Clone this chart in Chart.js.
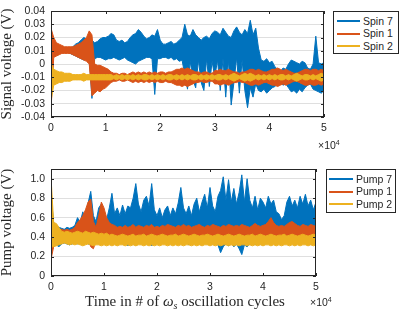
<!DOCTYPE html>
<html lang="en">
<head>
  <meta charset="UTF-8">
  <title>Spin and pump voltages</title>
  <script src="https://cdn.jsdelivr.net/npm/chart.js"></script>
  <style>
    body {
      margin: 0;
      width: 399px;
      height: 312px;
      background: #fff;
      position: relative;
      overflow: hidden;
      font-family: "Liberation Sans", Arial, sans-serif;
      color: #262626;
    }
    .panel { position: absolute; left: 0; }
    .legend {
      position: absolute;
      background: #fff;
      border: 1px solid #262626;
      box-sizing: border-box;
      font-size: 10.5px;
    }
    .legend .row {
      position: absolute;
      height: 13px;
      line-height: 13px;
      white-space: nowrap;
    }
    .legend .swatch {
      position: absolute;
      top: 5.5px;
      height: 2px;
    }
    .legend .txt { position: absolute; }
    .exp {
      position: absolute;
      font-size: 10.5px;
      line-height: 12px;
    }
    .exp sup { font-size: 7px; vertical-align: 4px; }
    .xtitle {
      position: absolute;
      left: 51px;
      width: 268px;
      top: 292px;
      text-align: center;
      font-family: "Liberation Serif", "Times New Roman", serif;
      font-size: 15px;
      line-height: 18px;
    }
    .xtitle sub { font-size: 10px; vertical-align: -3px; }
  </style>
</head>
<body>
  <div class="panel" style="top:0"><canvas id="spinChart" width="399" height="150"></canvas></div>
  <div class="panel" style="top:150px"><canvas id="pumpChart" width="399" height="162"></canvas></div>

  <div class="legend" id="spinLegend" style="left:333px; top:11px; width:66px; height:43px;"></div>
  <div class="legend" id="pumpLegend" style="left:326px; top:169px; width:70px; height:44px;"></div>

  <div class="exp" style="left:318px; top:137px;">×10<sup>4</sup></div>
  <div class="exp" style="left:310px; top:294px;">×10<sup>4</sup></div>
  <div class="xtitle">Time in # of <i>ω<sub>s</sub></i> oscillation cycles</div>

<script>
// sample positions (oscillation cycles)
const cycles = [0, 500, 1000, 1500, 2000, 2500, 3000, 3500, 4000, 4500,
  5000, 5500, 6000, 6500, 7000, 7500, 8000, 8500, 9000, 9500,
  10000, 10500, 11000, 11500, 12000, 12500, 13000, 13500, 14000, 14500,
  15000, 15500, 16000, 16500, 17000, 17500, 18000, 18500, 19000, 19500,
  20000, 20500, 21000, 21500, 22000, 22500, 23000, 23500, 24000, 24500,
  25000, 25500, 26000, 26500, 27000, 27500, 28000, 28500, 29000, 29500,
  30000, 30500, 31000, 31500, 32000, 32500, 33000, 33500, 34000, 34500,
  35000, 35500, 36000, 36500, 37000, 37500, 38000, 38500, 39000, 39500,
  40000, 40500, 41000, 41500, 42000, 42500, 43000, 43500, 44000, 44500,
  45000, 45500, 46000, 46500, 47000, 47500, 48000, 48500, 49000, 49500, 50000];

// signal voltage (V): upper / lower excursion in each sample window
const spin7Hi = [0.011, 0.011, 0.011, 0.011, 0.011, 0.011, 0.011, 0.012, 0.013,
  0.015, 0.016, 0.018, 0.020, 0.019, 0.017, 0.018,
  0.016, 0.017, 0.019, 0.020, 0.020, 0.021, 0.023, 0.022,
  0.018, 0.017, 0.018, 0.016, 0.017, 0.020, 0.022, 0.023,
  0.026, 0.024, 0.021, 0.019, 0.020, 0.022, 0.021, 0.026,
  0.018, 0.015, 0.015, 0.016, 0.017, 0.015, 0.016, 0.018,
  0.020, 0.030, 0.022, 0.021, 0.026, 0.022, 0.020, 0.018,
  0.020, 0.021, 0.019, 0.023, 0.025, 0.024, 0.022, 0.027,
  0.024, 0.021, 0.020, 0.025, 0.028, 0.024, 0.022, 0.026,
  0.023, 0.033, 0.022, 0.027, 0.012,
  0.003, 0.002, 0.004, 0.001, 0.002, -0.002, -0.004, -0.006, -0.003,
  -0.004, 0.000, 0.003, 0.002, 0.001, 0.000, 0.002, 0.001,
  -0.003, -0.004, 0.000, 0.021, 0.001, 0.000, 0.001];
const spin7Lo = [0.009, 0.009, 0.009, 0.009, 0.009, 0.009, 0.009, 0.008, 0.007,
  0.006, 0.005, 0.004, 0.003, 0.004, 0.005, -0.026,
  0.004, 0.005, 0.005, 0.004, 0.003, 0.004, 0.004, 0.005,
  0.004, 0.003, 0.004, 0.005, 0.003, 0.002, 0.001, 0.000,
  0.002, 0.003, 0.004, 0.005, 0.005, 0.004, -0.023, 0.004,
  0.004, 0.005, 0.005, 0.004, 0.005, 0.003, 0.004, 0.002,
  0.003, -0.008, -0.019, 0.002, -0.012, -0.018, 0.003, -0.014,
  -0.020, 0.004, -0.017, 0.002, -0.010, 0.003, -0.020, 0.004,
  -0.025, 0.003, -0.031, -0.014, 0.005, -0.022, 0.003, -0.020,
  -0.033, -0.018, -0.025, -0.015, -0.020,
  -0.021, -0.019, -0.022, -0.020, -0.018, -0.017, -0.015, -0.014, -0.016,
  -0.015, -0.018, -0.021, -0.020, -0.022, -0.019, -0.021, -0.018,
  -0.016, -0.015, -0.019, -0.020, -0.021, -0.022, -0.020];
const spin1Hi = [0.027, 0.020, 0.016, 0.015, 0.014, 0.013, 0.013, 0.013, 0.013,
  0.014, 0.015, 0.016, 0.018, 0.020, 0.025, 0.022,
  0.000, -0.001, -0.001, -0.002, -0.003, -0.004, -0.006, -0.007,
  -0.007, -0.008, -0.007, -0.007, -0.008, -0.007, -0.006, -0.007,
  -0.006, -0.007, -0.006, -0.007, -0.006, -0.007, -0.006, -0.007,
  -0.006, -0.006, -0.007, -0.006, -0.006, -0.005, -0.004, -0.004,
  -0.003, -0.004, -0.003, -0.004, -0.005, -0.006, -0.006, -0.007,
  -0.006, -0.006, -0.007, -0.007, -0.005, -0.005, -0.004, -0.005,
  -0.005, -0.004, -0.005, -0.006, -0.006, -0.007, -0.006, -0.006,
  -0.005, -0.004, -0.004, -0.005, -0.004, -0.005, -0.006, -0.006,
  -0.005, -0.004, -0.004, -0.003, -0.004, -0.005, -0.004, -0.005,
  -0.006, -0.007, -0.007, -0.006, -0.005, -0.004, -0.004, -0.005,
  -0.004, -0.004, -0.005, -0.004, -0.005];
const spin1Lo = [-0.035, 0.005, 0.006, 0.007, 0.008, 0.008, 0.008, 0.008, 0.007,
  0.006, 0.005, 0.004, 0.003, 0.002, 0.000, -0.024,
  -0.022, -0.020, -0.021, -0.019, -0.018, -0.016, -0.014, -0.013,
  -0.013, -0.012, -0.013, -0.013, -0.012, -0.013, -0.014, -0.013,
  -0.014, -0.013, -0.014, -0.013, -0.014, -0.013, -0.014, -0.013,
  -0.014, -0.014, -0.013, -0.014, -0.014, -0.015, -0.016, -0.016,
  -0.017, -0.016, -0.017, -0.016, -0.015, -0.014, -0.014, -0.013,
  -0.014, -0.014, -0.013, -0.013, -0.015, -0.015, -0.016, -0.015,
  -0.015, -0.016, -0.015, -0.014, -0.014, -0.013, -0.014, -0.014,
  -0.015, -0.016, -0.016, -0.015, -0.016, -0.015, -0.014, -0.014,
  -0.015, -0.016, -0.016, -0.017, -0.016, -0.015, -0.016, -0.015,
  -0.014, -0.013, -0.013, -0.014, -0.015, -0.016, -0.016, -0.015,
  -0.016, -0.016, -0.015, -0.016, -0.015];
const spin2Hi = [0.001, -0.004, -0.005, -0.006, -0.006, -0.007, -0.007, -0.007, -0.008,
  -0.008, -0.008, -0.008, -0.007, -0.008, -0.008, -0.008,
  -0.008, -0.008, -0.008, -0.008, -0.008, -0.008, -0.008, -0.009,
  -0.008, -0.009, -0.008, -0.009, -0.008, -0.009, -0.008, -0.009,
  -0.008, -0.009, -0.008, -0.008, -0.009, -0.008, -0.009, -0.008,
  -0.009, -0.008, -0.009, -0.008, -0.008, -0.009, -0.008, -0.009,
  -0.008, -0.009, -0.008, -0.009, -0.008, -0.008, -0.009, -0.008,
  -0.009, -0.008, -0.009, -0.008, -0.009, -0.008, -0.008, -0.009,
  -0.008, -0.009, -0.008, -0.007, -0.008, -0.009, -0.008, -0.007,
  -0.008, -0.007, -0.008, -0.009, -0.008, -0.009, -0.008, -0.009,
  -0.008, -0.009, -0.008, -0.009, -0.008, -0.008, -0.009, -0.008,
  -0.009, -0.008, -0.007, -0.008, -0.009, -0.008, -0.008, -0.009,
  -0.008, -0.009, -0.008, -0.007, -0.008];
const spin2Lo = [-0.028, -0.016, -0.015, -0.014, -0.014, -0.013, -0.013, -0.013, -0.012,
  -0.012, -0.012, -0.012, -0.013, -0.012, -0.012, -0.012,
  -0.012, -0.012, -0.012, -0.012, -0.012, -0.012, -0.012, -0.011,
  -0.012, -0.011, -0.012, -0.011, -0.012, -0.011, -0.012, -0.011,
  -0.012, -0.011, -0.012, -0.012, -0.011, -0.012, -0.011, -0.012,
  -0.011, -0.012, -0.011, -0.012, -0.012, -0.011, -0.012, -0.011,
  -0.012, -0.011, -0.012, -0.011, -0.012, -0.012, -0.011, -0.012,
  -0.011, -0.012, -0.011, -0.012, -0.011, -0.012, -0.012, -0.011,
  -0.012, -0.011, -0.012, -0.013, -0.012, -0.011, -0.012, -0.013,
  -0.012, -0.013, -0.012, -0.011, -0.012, -0.011, -0.012, -0.011,
  -0.012, -0.011, -0.012, -0.011, -0.012, -0.012, -0.011, -0.012,
  -0.011, -0.012, -0.013, -0.012, -0.011, -0.012, -0.012, -0.011,
  -0.012, -0.011, -0.012, -0.013, -0.012];

// pump voltage (V)
const pump7Hi = [0.83, 0.55, 0.52, 0.50, 0.49, 0.48, 0.50, 0.49, 0.50, 0.52,
  0.60, 0.55, 0.66, 0.58, 0.75, 0.87, 0.62, 0.56, 0.70, 0.74,
  0.62, 0.58, 0.70, 0.85, 0.64, 0.70, 0.62, 0.73, 0.64, 0.72,
  0.70, 0.80, 0.95, 0.74, 0.66, 0.78, 0.82, 0.72, 0.95, 0.68,
  0.62, 0.70, 0.60, 0.68, 0.72, 0.62, 0.70, 0.64, 0.75, 0.91,
  0.70, 0.64, 0.72, 0.62, 0.74, 0.80, 0.66, 0.76, 0.84, 0.70,
  0.91, 0.72, 0.66, 0.82, 0.88, 1.02, 0.78, 0.99, 0.76, 0.90,
  0.74, 0.86, 1.04, 0.76, 1.00, 0.78, 0.70, 0.82, 0.68, 0.80,
  0.76, 0.70, 0.82, 0.74, 0.78, 0.66, 0.64, 0.58, 0.62, 0.76,
  0.82, 0.72, 0.78, 0.70, 0.82, 0.74, 0.84, 0.72, 0.78, 0.68, 0.76];
const pump7Lo = [0.25, 0.30, 0.32, 0.30, 0.33, 0.34, 0.33, 0.32, 0.33, 0.34,
  0.33, 0.34, 0.32, 0.35, 0.33, 0.32, 0.31, 0.34, 0.33, 0.35,
  0.33, 0.34, 0.35, 0.33, 0.34, 0.32, 0.34, 0.33, 0.35, 0.31,
  0.34, 0.33, 0.32, 0.34, 0.33, 0.35, 0.33, 0.34, 0.31, 0.34,
  0.35, 0.34, 0.36, 0.33, 0.35, 0.34, 0.33, 0.35, 0.33, 0.34,
  0.33, 0.35, 0.32, 0.34, 0.33, 0.35, 0.33, 0.32, 0.34, 0.33,
  0.34, 0.33, 0.35, 0.32, 0.24, 0.30, 0.33, 0.31, 0.34, 0.30,
  0.33, 0.28, 0.22, 0.32, 0.30, 0.33, 0.34, 0.32, 0.34, 0.33,
  0.35, 0.33, 0.34, 0.32, 0.34, 0.33, 0.35, 0.34, 0.33, 0.35,
  0.33, 0.34, 0.32, 0.34, 0.33, 0.35, 0.33, 0.34, 0.33, 0.35, 0.34];
const pump1Hi = [0.60, 0.50, 0.48, 0.47, 0.48, 0.47, 0.48, 0.47, 0.48, 0.50,
  0.55, 0.58, 0.62, 0.68, 0.76, 0.79, 0.56, 0.50, 0.62, 0.76,
  0.70, 0.60, 0.55, 0.53, 0.52, 0.50, 0.51, 0.50, 0.52, 0.50,
  0.51, 0.53, 0.50, 0.52, 0.51, 0.50, 0.52, 0.51, 0.53, 0.50,
  0.51, 0.50, 0.52, 0.51, 0.53, 0.52, 0.51, 0.50, 0.52, 0.51,
  0.53, 0.51, 0.52, 0.50, 0.51, 0.52, 0.53, 0.51, 0.50, 0.52,
  0.51, 0.53, 0.52, 0.51, 0.50, 0.52, 0.51, 0.53, 0.52, 0.51,
  0.52, 0.51, 0.53, 0.52, 0.51, 0.50, 0.52, 0.54, 0.52, 0.51,
  0.52, 0.53, 0.56, 0.60, 0.55, 0.52, 0.51, 0.52, 0.51, 0.53,
  0.55, 0.56, 0.54, 0.52, 0.51, 0.53, 0.52, 0.51, 0.53, 0.52, 0.51];
const pump1Lo = [0.17, 0.30, 0.34, 0.36, 0.35, 0.36, 0.36, 0.35, 0.36, 0.37,
  0.38, 0.38, 0.40, 0.39, 0.38, 0.30, 0.28, 0.36, 0.40, 0.41,
  0.42, 0.42, 0.41, 0.40, 0.41, 0.40, 0.41, 0.40, 0.39, 0.40,
  0.40, 0.41, 0.39, 0.40, 0.41, 0.40, 0.39, 0.41, 0.40, 0.40,
  0.41, 0.40, 0.39, 0.41, 0.40, 0.41, 0.40, 0.39, 0.40, 0.41,
  0.40, 0.39, 0.41, 0.40, 0.40, 0.41, 0.39, 0.40, 0.41, 0.40,
  0.39, 0.40, 0.41, 0.40, 0.39, 0.41, 0.40, 0.40, 0.41, 0.39,
  0.40, 0.41, 0.40, 0.39, 0.41, 0.40, 0.40, 0.41, 0.39, 0.40,
  0.41, 0.40, 0.41, 0.42, 0.40, 0.39, 0.41, 0.40, 0.40, 0.41,
  0.40, 0.41, 0.40, 0.39, 0.41, 0.40, 0.40, 0.41, 0.39, 0.40, 0.41];
const pump2Hi = [1.02, 0.55, 0.54, 0.50, 0.46, 0.45, 0.46, 0.45, 0.44, 0.45,
  0.46, 0.45, 0.44, 0.46, 0.45, 0.44, 0.45, 0.44, 0.43, 0.44,
  0.43, 0.44, 0.42, 0.43, 0.42, 0.41, 0.42, 0.43, 0.42, 0.41,
  0.42, 0.43, 0.41, 0.42, 0.42, 0.43, 0.41, 0.42, 0.43, 0.42,
  0.41, 0.42, 0.43, 0.42, 0.41, 0.42, 0.42, 0.43, 0.41, 0.42,
  0.43, 0.42, 0.41, 0.42, 0.43, 0.42, 0.41, 0.42, 0.42, 0.43,
  0.42, 0.41, 0.42, 0.43, 0.42, 0.41, 0.42, 0.43, 0.42, 0.41,
  0.42, 0.43, 0.42, 0.41, 0.42, 0.42, 0.43, 0.41, 0.42, 0.43,
  0.42, 0.41, 0.42, 0.43, 0.42, 0.41, 0.42, 0.42, 0.43, 0.41,
  0.42, 0.43, 0.42, 0.41, 0.42, 0.43, 0.42, 0.41, 0.42, 0.43, 0.42];
const pump2Lo = [0.30, 0.30, 0.31, 0.32, 0.33, 0.34, 0.33, 0.32, 0.33, 0.32,
  0.33, 0.32, 0.31, 0.32, 0.33, 0.32, 0.31, 0.32, 0.32, 0.31,
  0.32, 0.31, 0.32, 0.31, 0.32, 0.31, 0.32, 0.32, 0.31, 0.32,
  0.31, 0.32, 0.31, 0.32, 0.32, 0.31, 0.32, 0.31, 0.32, 0.31,
  0.32, 0.31, 0.32, 0.32, 0.31, 0.32, 0.31, 0.32, 0.31, 0.32,
  0.31, 0.32, 0.32, 0.31, 0.32, 0.31, 0.32, 0.31, 0.32, 0.32,
  0.31, 0.32, 0.31, 0.32, 0.31, 0.32, 0.32, 0.31, 0.32, 0.31,
  0.32, 0.31, 0.32, 0.32, 0.31, 0.32, 0.31, 0.32, 0.31, 0.32,
  0.31, 0.32, 0.32, 0.31, 0.32, 0.31, 0.32, 0.31, 0.32, 0.32,
  0.31, 0.32, 0.31, 0.32, 0.31, 0.32, 0.32, 0.31, 0.32, 0.31, 0.32];

const spinNames = ['Spin 7', 'Spin 1', 'Spin 2'];
const pumpNames = ['Pump 7', 'Pump 1', 'Pump 2'];
const colors = ['#0072BD', '#D95319', '#EDB120'];
const xTicks = [0, 1, 2, 3, 4, 5];

const pts = arr => cycles.map((c, i) => ({ x: c, y: arr[i] }));

// each signal = its upper envelope line + lower envelope line filled up to it
function bandDatasets(names, series) {
  const out = [];
  series.forEach((s, k) => {
    const common = {
      label: names[k], borderColor: colors[k], backgroundColor: colors[k],
      borderWidth: 1, pointRadius: 0, tension: 0, order: 3 - k
    };
    out.push(Object.assign({}, common, { data: pts(s[0]), fill: false }));
    out.push(Object.assign({}, common, { data: pts(s[1]), fill: '-1' }));
  });
  return out;
}

const ink = '#262626';
const tickFont = { family: 'Liberation Sans', size: 10.5 };

// box + inward ticks on all four sides, like the matlab axes
const frame = {
  id: 'frame',
  afterDatasetsDraw(chart) {
    const { ctx, chartArea: a, scales } = chart;
    ctx.save();
    ctx.strokeStyle = ink;
    ctx.lineWidth = 1;
    ctx.beginPath();
    scales.x.ticks.forEach(t => {
      const px = Math.round(scales.x.getPixelForValue(t.value)) + 0.5;
      ctx.moveTo(px, a.bottom); ctx.lineTo(px, a.bottom - 3);
      ctx.moveTo(px, a.top); ctx.lineTo(px, a.top + 3);
    });
    scales.y.ticks.forEach(t => {
      const py = Math.round(scales.y.getPixelForValue(t.value)) + 0.5;
      ctx.moveTo(a.left, py); ctx.lineTo(a.left + 3, py);
      ctx.moveTo(a.right, py); ctx.lineTo(a.right - 3, py);
    });
    ctx.stroke();
    ctx.strokeRect(a.left + 0.5, a.top + 0.5, a.width - 1, a.height - 1);
    ctx.restore();
  }
};

function makeChart(id, names, series, yMin, yMax, yStep, yTitle, pad, xHeight) {
  return new Chart(document.getElementById(id), {
    type: 'line',
    data: { datasets: bandDatasets(names, series) },
    options: {
      responsive: false,
      animation: false,
      devicePixelRatio: 1,
      layout: { padding: pad },
      plugins: { legend: { display: false }, tooltip: { enabled: false } },
      scales: {
        x: {
          type: 'linear',
          min: 0, max: 50000,
          grid: { display: false, drawTicks: false },
          border: { display: false },
          ticks: {
            stepSize: 10000, autoSkip: false,
            color: ink, font: tickFont, padding: 5, maxRotation: 0,
            callback: v => xTicks.includes(v / 10000) ? String(v / 10000) : ''
          },
          afterFit: s => { s.height = xHeight; s.paddingLeft = 0; s.paddingRight = 0; }
        },
        y: {
          min: yMin, max: yMax,
          grid: { color: '#dfdfdf', drawTicks: false },
          border: { display: false },
          ticks: {
            stepSize: yStep, includeBounds: false, autoSkip: false, maxTicksLimit: 20,
            color: ink, font: tickFont, padding: 6
          },
          title: {
            display: true, text: yTitle, color: ink,
            font: { family: 'Liberation Serif', size: 15, lineHeight: 1 },
            padding: { top: 0, bottom: 0 }
          },
          afterFit: s => { s.width = 51; s.paddingTop = 0; s.paddingBottom = 0; }
        }
      }
    },
    plugins: [frame]
  });
}

makeChart('spinChart', spinNames,
  [[spin7Hi, spin7Lo], [spin1Hi, spin1Lo], [spin2Hi, spin2Lo]],
  -0.04, 0.04, 0.01, 'Signal voltage (V)',
  { top: 11, right: 75, left: 0, bottom: 0 }, 33);

makeChart('pumpChart', pumpNames,
  [[pump7Hi, pump7Lo], [pump1Hi, pump1Lo], [pump2Hi, pump2Lo]],
  0, 1.1, 0.2, 'Pump voltage (V)',
  { top: 19, right: 83, left: 0, bottom: 0 }, 36);

// legends
function legend(elId, names, lineLeft, lineWidth, textLeft) {
  const box = document.getElementById(elId);
  names.forEach((n, k) => {
    const row = document.createElement('div');
    row.className = 'row';
    row.style.top = (2.5 + 12.7 * k) + 'px';
    row.style.left = '0px';
    row.innerHTML = '<span class="swatch" style="left:' + lineLeft + 'px;width:' + lineWidth +
      'px;background:' + colors[k] + '"></span><span class="txt" style="left:' + textLeft + 'px">' + n + '</span>';
    box.appendChild(row);
  });
}
legend('spinLegend', spinNames, 3, 23, 29);
legend('pumpLegend', pumpNames, 2, 24, 29);
</script>
</body>
</html>
